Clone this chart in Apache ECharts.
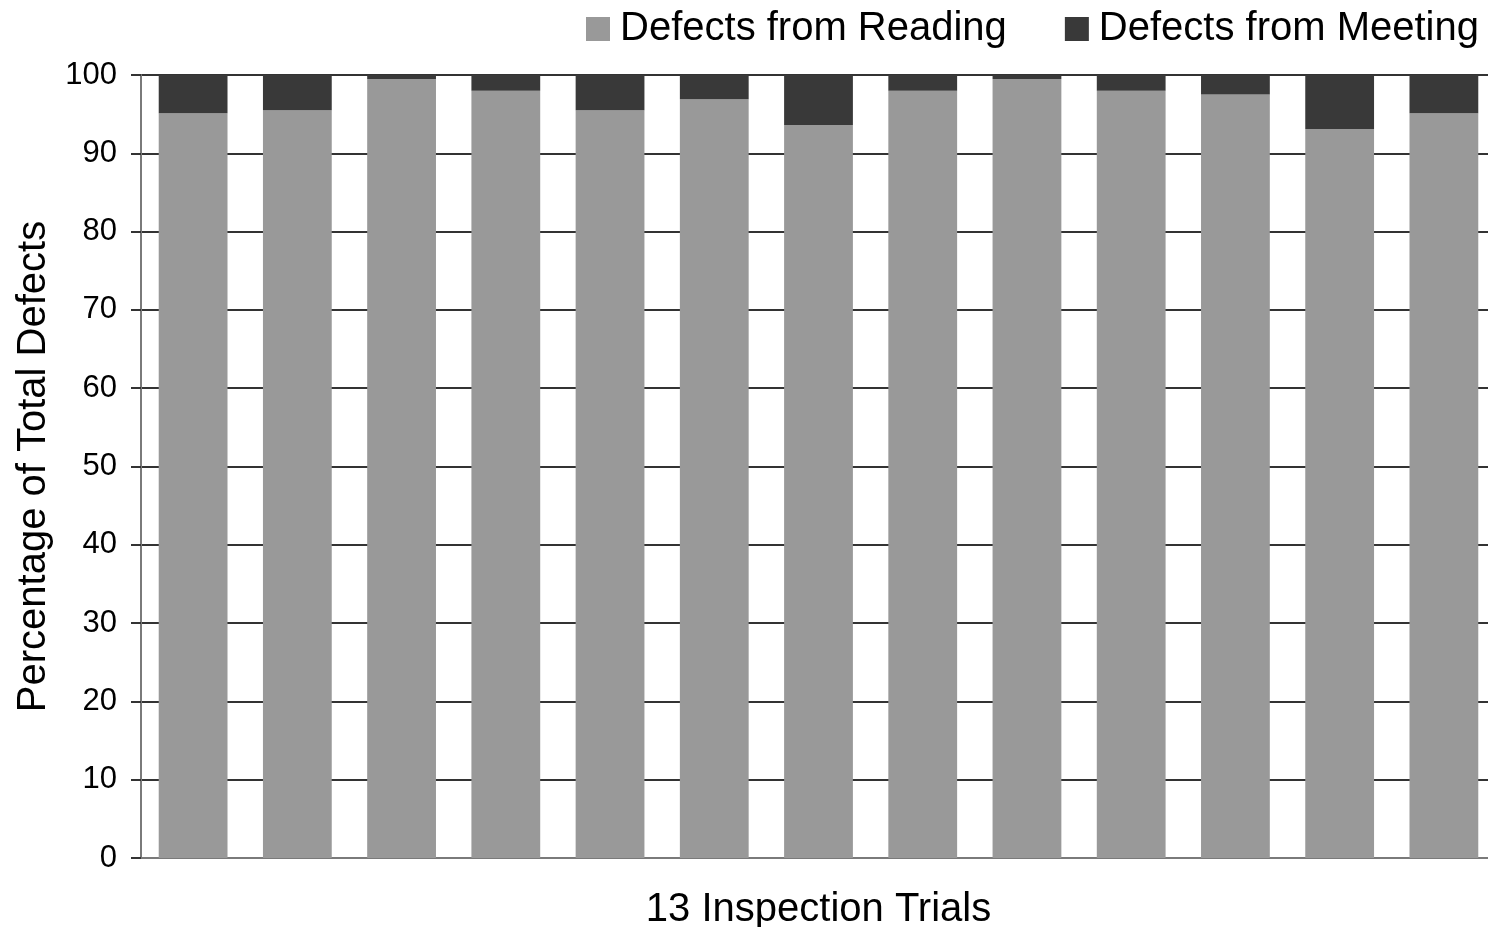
<!DOCTYPE html>
<html>
<head>
<meta charset="utf-8">
<script src="https://cdn.jsdelivr.net/npm/echarts@6/dist/echarts.min.js"></script>
<style>
html,body{margin:0;padding:0;background:#fff;}
#chart{width:1488px;height:927px;}
</style>
</head>
<body>
<div id="chart"></div>
<script>
var categories = ["1","2","3","4","5","6","7","8","9","10","11","12","13"];
var readingValues = [95.1, 95.5, 99.5, 98.0, 95.5, 96.9, 93.6, 98.0, 99.5, 98.0, 97.5, 93.1, 95.1];
var meetingValues = [4.9, 4.5, 0.5, 2.0, 4.5, 3.1, 6.4, 2.0, 0.5, 2.0, 2.5, 6.9, 4.9];
var yTicks = [0, 10, 20, 30, 40, 50, 60, 70, 80, 90, 100];

var FONT = "'Liberation Sans', Arial, sans-serif";
var chart = echarts.init(document.getElementById('chart'));
chart.setOption({
  animation: false,
  backgroundColor: '#ffffff',
  textStyle: { fontFamily: FONT },
  legend: {
    top: 4,
    right: 4,
    itemWidth: 24,
    itemHeight: 24,
    itemGap: 58,
    icon: 'rect',
    textStyle: { fontSize: 40, color: '#000', fontFamily: FONT, padding: [0, 0, 0, 5] },
    data: ['Defects from Reading', 'Defects from Meeting']
  },
  grid: { left: 141, top: 75, bottom: 69, right: -8, outerBoundsMode: 'none', containLabel: false },
  xAxis: {
    type: 'category',
    data: categories,
    name: '13 Inspection Trials',
    nameLocation: 'middle',
    nameGap: 32,
    nameTextStyle: { fontSize: 40, color: '#000', fontFamily: FONT },
    axisLine: { show: true, lineStyle: { color: '#7a7a7a', width: 2 } },
    axisTick: { show: false },
    axisLabel: { show: false },
    splitLine: { show: false }
  },
  yAxis: {
    type: 'value',
    min: yTicks[0],
    max: yTicks[yTicks.length - 1],
    interval: 10,
    name: 'Percentage of Total Defects',
    nameLocation: 'middle',
    nameGap: 83,
    nameTextStyle: { fontSize: 40, color: '#000', fontFamily: FONT },
    axisLine: { show: true, lineStyle: { color: '#7a7a7a', width: 2 } },
    axisTick: { show: true, length: 10, lineStyle: { color: '#333', width: 2 } },
    axisLabel: { fontSize: 31, color: '#000', margin: 24, fontFamily: FONT },
    splitLine: { show: true, lineStyle: { color: '#333', width: 2 } }
  },
  series: [
    {
      name: 'Defects from Reading',
      type: 'bar',
      stack: 'total',
      data: readingValues,
      barCategoryGap: '34%',
      itemStyle: { color: '#999999' }
    },
    {
      name: 'Defects from Meeting',
      type: 'bar',
      stack: 'total',
      data: meetingValues,
      barCategoryGap: '34%',
      itemStyle: { color: '#393939' }
    }
  ]
});
</script>
</body>
</html>
